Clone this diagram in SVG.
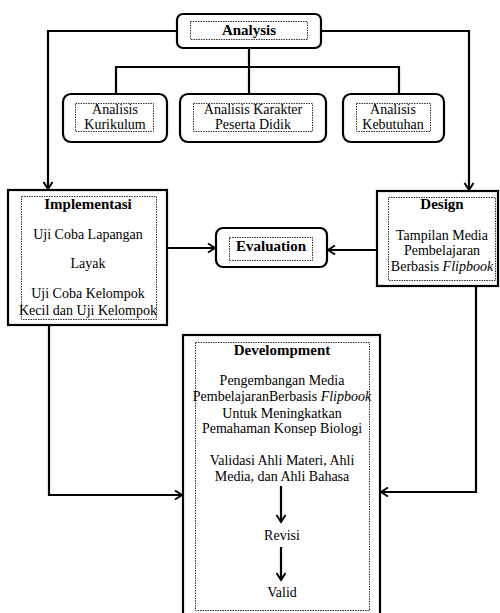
<svg xmlns="http://www.w3.org/2000/svg" width="500" height="613" viewBox="0 0 500 613">
<defs>
<style>
.box{fill:#fff;stroke:#000;stroke-width:2.2}
.inner{fill:none;stroke:#333;stroke-width:1;stroke-dasharray:1.5 1}
.ln{fill:none;stroke:#000;stroke-width:2.2}
.t{font-family:"Liberation Serif","Times New Roman",serif;font-size:14px;fill:#000;text-anchor:middle}
.b{font-weight:bold;font-size:15px}
.i{font-style:italic}
</style>
<marker id="ah" markerUnits="userSpaceOnUse" markerWidth="12" markerHeight="12" viewBox="0 0 12 12" refX="9" refY="6" orient="auto">
<path d="M2,1.5 L9,6 L2,10.5" fill="none" stroke="#000" stroke-width="2"/>
</marker>
</defs>
<rect width="500" height="613" fill="#fff"/>
<g id="connectors">
<path class="ln" d="M177,31 H48 V189" marker-end="url(#ah)"/>
<path class="ln" d="M321,31 H469 V190" marker-end="url(#ah)"/>
<path class="ln" d="M249,48 V94"/>
<path class="ln" d="M116,94 V67 H399 V94"/>
<path class="ln" d="M167,248 H215" marker-end="url(#ah)"/>
<path class="ln" d="M377,250 H328" marker-end="url(#ah)"/>
<path class="ln" d="M49,325 V495 H182" marker-end="url(#ah)"/>
<path class="ln" d="M476,286 V492 H381" marker-end="url(#ah)"/>
</g>
<g id="analysis">
<rect class="box" x="177" y="14" width="144" height="34" rx="6"/>
<rect class="inner" x="190.5" y="21.5" width="117" height="18"/>
<text class="t b" x="249" y="35">Analysis</text>
</g>
<g id="analisis-kurikulum">
<rect class="box" x="63" y="94" width="104" height="48" rx="8"/>
<rect class="inner" x="75.5" y="103.5" width="78" height="28"/>
<text class="t" x="115" y="114">Analisis</text>
<text class="t" x="115" y="129">Kurikulum</text>
</g>
<g id="analisis-karakter">
<rect class="box" x="180" y="94" width="146" height="48" rx="8"/>
<rect class="inner" x="193.5" y="103.5" width="119" height="28"/>
<text class="t" x="253" y="114">Analisis Karakter</text>
<text class="t" x="253" y="129">Peserta Didik</text>
</g>
<g id="analisis-kebutuhan">
<rect class="box" x="343" y="94" width="101" height="48" rx="8"/>
<rect class="inner" x="356.5" y="103.5" width="74" height="28"/>
<text class="t" x="393" y="114">Analisis</text>
<text class="t" x="393" y="129">Kebutuhan</text>
</g>
<g id="implementasi">
<rect class="box" x="8" y="190" width="159" height="135"/>
<rect class="inner" x="21.5" y="196.5" width="135" height="123"/>
<text class="t b" x="88" y="209">Implementasi</text>
<text class="t" x="88" y="239">Uji Coba Lapangan</text>
<text class="t" x="88" y="268">Layak</text>
<text class="t" x="88" y="298">Uji Coba Kelompok</text>
<text class="t" x="88" y="315">Kecil dan Uji Kelompok</text>
</g>
<g id="evaluation">
<rect class="box" x="216" y="228" width="111" height="39" rx="7"/>
<rect class="inner" x="229.5" y="237.5" width="83" height="23"/>
<text class="t b" x="271" y="251">Evaluation</text>
</g>
<g id="design">
<rect class="box" x="377" y="191" width="121" height="95"/>
<rect class="inner" x="388.5" y="197.5" width="107" height="83"/>
<text class="t b" x="442" y="209">Design</text>
<text class="t" x="442" y="240">Tampilan Media</text>
<text class="t" x="442" y="255">Pembelajaran</text>
<text class="t" x="442" y="271">Berbasis <tspan class="i">Flipbook</tspan></text>
</g>
<g id="development">
<rect class="box" x="183" y="335" width="197" height="290"/>
<rect class="inner" x="195.5" y="342.5" width="174" height="268"/>
<text class="t b" x="282" y="355">Develompment</text>
<text class="t" x="282" y="385">Pengembangan Media</text>
<text class="t" x="282" y="401">PembelajaranBerbasis <tspan class="i">Flipbook</tspan></text>
<text class="t" x="282" y="418">Untuk Meningkatkan</text>
<text class="t" x="282" y="433">Pemahaman Konsep Biologi</text>
<text class="t" x="282" y="465">Validasi Ahli Materi, Ahli</text>
<text class="t" x="282" y="481">Media, dan Ahli Bahasa</text>
<path class="ln" d="M281,486 V522" marker-end="url(#ah)"/>
<text class="t" x="282" y="540">Revisi</text>
<path class="ln" d="M281,547 V580" marker-end="url(#ah)"/>
<text class="t" x="282" y="597">Valid</text>
</g>
</svg>
